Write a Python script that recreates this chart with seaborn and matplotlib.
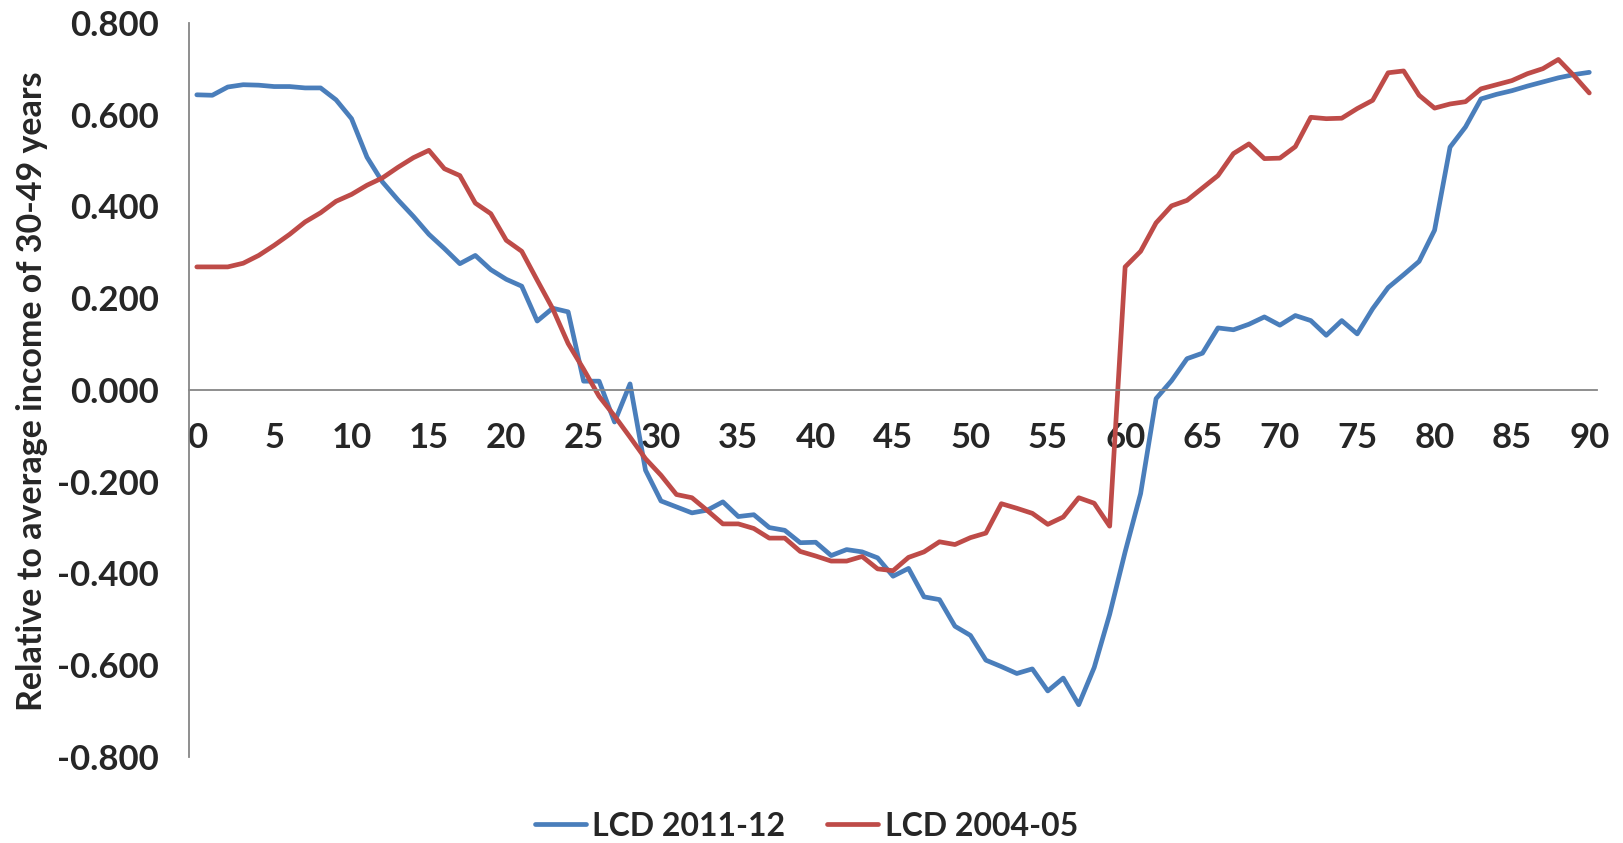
import numpy as np
import pandas as pd
import matplotlib
matplotlib.use("Agg")
import matplotlib.pyplot as plt
import seaborn as sns
from matplotlib.lines import Line2D

# Income relative to the 30-49 age group, by age (0..90)
ages = list(range(0, 91))

lcd_2011_12 = [
    0.643, 0.642, 0.660, 0.665, 0.664, 0.661, 0.661, 0.658, 0.658, 0.632,
    0.591, 0.507, 0.453, 0.414, 0.378, 0.339, 0.308, 0.275, 0.293, 0.262,
    0.241, 0.226, 0.150, 0.178, 0.170, 0.019, 0.019, -0.070, 0.013, -0.175,
    -0.242, -0.255, -0.268, -0.262, -0.244, -0.276, -0.272, -0.300, -0.306, -0.333,
    -0.332, -0.361, -0.348, -0.353, -0.366, -0.406, -0.389, -0.451, -0.457, -0.515,
    -0.535, -0.589, -0.603, -0.618, -0.608, -0.656, -0.628, -0.686, -0.605, -0.489,
    -0.353, -0.226, -0.019, 0.020, 0.068, 0.080, 0.135, 0.131, 0.143, 0.159,
    0.141, 0.162, 0.151, 0.119, 0.151, 0.122, 0.177, 0.223, 0.251, 0.280,
    0.348, 0.529, 0.573, 0.634, 0.644, 0.652, 0.662, 0.671, 0.680, 0.687,
    0.692,
]

lcd_2004_05 = [
    0.268, 0.268, 0.268, 0.276, 0.293, 0.315, 0.339, 0.366, 0.386, 0.411,
    0.426, 0.446, 0.462, 0.485, 0.506, 0.522, 0.482, 0.467, 0.407, 0.384,
    0.326, 0.302, 0.239, 0.177, 0.101, 0.045, -0.014, -0.057, -0.103, -0.150,
    -0.186, -0.228, -0.235, -0.263, -0.292, -0.292, -0.302, -0.323, -0.323, -0.352,
    -0.362, -0.373, -0.373, -0.363, -0.390, -0.394, -0.365, -0.353, -0.331, -0.337,
    -0.322, -0.312, -0.248, -0.258, -0.269, -0.293, -0.277, -0.235, -0.247, -0.297,
    0.268, 0.302, 0.364, 0.401, 0.413, 0.440, 0.467, 0.515, 0.536, 0.504,
    0.505, 0.530, 0.594, 0.591, 0.592, 0.613, 0.631, 0.691, 0.695, 0.642,
    0.614, 0.623, 0.628, 0.656, 0.665, 0.674, 0.689, 0.700, 0.720, 0.685,
    0.647,
]

series_names = ["LCD 2011-12", "LCD 2004-05"]
colors = ["#4A7EBB", "#BE4B48"]

y_ticks = [-0.8, -0.6, -0.4, -0.2, 0.0, 0.2, 0.4, 0.6, 0.8]
x_ticks = list(range(0, 91, 5))

df = pd.concat([
    pd.DataFrame({"age": ages, "value": lcd_2011_12, "series": series_names[0]}),
    pd.DataFrame({"age": ages, "value": lcd_2004_05, "series": series_names[1]}),
])

sns.set_theme(style="white")
plt.rcParams["font.family"] = ["Lato", "DejaVu Sans"]

fig = plt.figure(figsize=(16.23, 8.43), dpi=100)
ax = fig.add_axes([0.1165, 0.102, 0.8675, 0.871])

sns.lineplot(data=df, x="age", y="value", hue="series", hue_order=series_names,
             palette=colors, linewidth=3.4, ax=ax, legend=False)

ax.set_xlim(-0.5, 90.5)
ax.set_ylim(-0.8, 0.8)

# axis look: gray y spine, category axis crossing at zero
for s in ["top", "right"]:
    ax.spines[s].set_visible(False)
ax.spines["left"].set_color("#868686")
ax.spines["left"].set_linewidth(1.3)
ax.spines["bottom"].set_position(("data", 0))
ax.spines["bottom"].set_color("#868686")
ax.spines["bottom"].set_linewidth(1.3)

ax.set_yticks(y_ticks)
ax.set_yticklabels([f"{v:.3f}" for v in y_ticks], fontweight="bold", fontsize=25)
ax.set_xticks(x_ticks)
ax.set_xticklabels([str(v) for v in x_ticks], fontweight="bold", fontsize=25)
ax.tick_params(axis="y", length=0, pad=22)
ax.tick_params(axis="x", length=0, pad=23)

ax.set_xlabel("")
ax.set_ylabel("Relative to average income of 30-49 years", fontsize=24.5,
              fontweight="bold", va="center")
# place the label centre relative to the figure
ax.yaxis.set_label_coords(0.02, 0.536, transform=fig.transFigure)

handles = [Line2D([0], [0], color=c, linewidth=3.4) for c in colors]
fig.legend(handles, series_names, loc="center", bbox_to_anchor=(0.4968, 0.02),
           ncol=2, frameon=False, prop={"weight": "bold", "size": 23},
           handlelength=1.6, handletextpad=0.2, columnspacing=1.3)

fig.savefig("out.png", dpi=100)
